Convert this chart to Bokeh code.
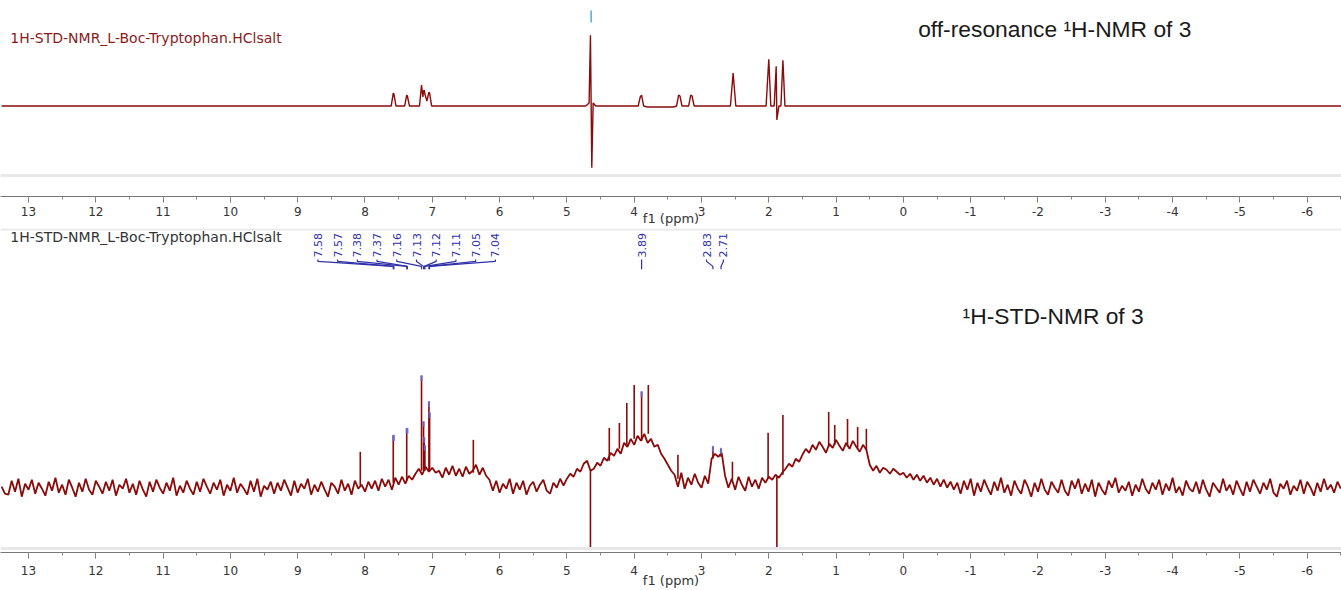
import math
import numpy as np
from bokeh.plotting import figure
from bokeh.layouts import column
from bokeh.models import Range1d, SingleIntervalTicker, Label, Span, ColumnDataSource, PrintfTickFormatter
from bokeh.core.properties import value
from bokeh.embed import file_html
from bokeh.resources import INLINE

# ---------------- data ----------------
sample_name = "1H-STD-NMR_L-Boc-Tryptophan.HClsalt"
title_off = "off-resonance \u00b9H-NMR of 3"
title_std = "\u00b9H-STD-NMR of 3"
axis_title = "f1 (ppm)"

# off-resonance 1H spectrum: (ppm, intensity) vertices
off_ppm = [13.40, 7.61, 7.58, 7.57, 7.54, 7.41, 7.38, 7.37, 7.34, 7.19, 7.16, 7.14, 7.13, 7.12, 7.11, 7.08, 7.05, 7.04, 7.01,
           4.72, 4.67, 4.65, 4.63, 4.61, 4.57,
           3.94, 3.91, 3.89, 3.86, 3.80, 3.42, 3.37, 3.34, 3.32, 3.29, 3.19, 3.16, 3.14, 3.11,
           2.57, 2.53, 2.49, 2.04, 2.00, 1.97, 1.92, 1.89, 1.88, 1.85, 1.82, 1.79, 1.76, -6.51]
off_int = [0, 0, 13, 12, 0, 0, 11, 10, 0, 0, 21, 9, 15, 16, 12, 5, 14, 13, 0,
           0, 3, 71, -62, 3, 0,
           0, 9, 11, 0, -1, -1, 0, 11, 10, 0, 0, 11, 10, 0,
           0, 33, 0, 0, 47, 0, 0, 40, -14, 0, 0, 46, 0, 0]
off_marker_ppm = [4.64]
off_marker_lo = [84]
off_marker_hi = [96]

std_start = 13.40
std_step = 0.05
std_a = [-4, -11,
         -12, 2, -9, 4, -14, -1, -7, 3, -11, 0,
         -6, -13, 1, -8, 5, -10, -2, -12, 3, -5,
         -14, 0, -9, 4, -7, -12, 2, -4, -11, 1,
         -8, 3, -13, -2, -6, 4, -10, -1, -12, 2,
         -7, -14, 1, -9, 3, -5, -11, 0, -8, 5,
         -13, -3, -10, 2, -6, -12, 1, -9, 4, -4,
         -11, 0, -7, 3, -13, -2, -8, 5, -10, -1,
         -6, -12, 2, -9, 4, -14, -3, -7, 1, -11,
         0, -8, 3, -5, -13, 2, -10, -1, -6, 4,
         -12, -2, -9, 1, -7, -14, 0, -4, -11, 3,
         -8, -1, -12, 2, -6]
std_b = [-2, -9, 1, -6, 2, -8, 4, -4, 3, -7, 5, -2, 6, -1, 7, 3]
std_c = [9, 14, 8, 16, 11, 15, 10]
std_d = [12, 5, 15, 8, 17, 7, 14, 6, 16, 9, 12, 18, 8, 15, 7]
std_e = [3, -8, 2, -10, -1, -6, 4, -11, 0, -7, 2, -12, -3, 1, -9, -2, 3, -8, -11, 0, -5, 4, -3]
std_f = [4, 9, 6, 14, 11, 19, 22, 12]
std_g = [14, 20, 17, 25, 22, 30, 27]
std_h = [34, 29, 40, 36, 44, 38, 47, 42, 49, 40]
std_i = [44, 36, 38, 29, 24, 18, 12]
std_j = [8, -4, 10, -6, 5, -2, 9, 0, -5, 7, -1]
std_k = [24, 29, 26, 30]
std_l = [7, -5, 4, -7, 6, -2, -8, 6, -4, 3, -6, 5, 0]
std_m = [6, 3, 8, 5, 10]
std_n = [14, 19, 16, 24, 21]
std_o = [28, 34, 30, 38, 33, 41, 36, 30, 39, 35, 43, 37, 32, 40, 34, 42, 36, 31, 38, 33]
std_p = [18, 12, 17, 10, 15, 13, 9, 14, 11, 8]
std_q = [10, 5, 9, 3, 8, 2, 7, 0, 5, -2, 4, -4, 3, -5, 1, -7, 0]
std_r = [-11, 2, -7, 4, -13, 0, -9, 3, -5, -12,
         1, -8, 5, -10, -2, -13, 2, -6, -11, 3,
         -4, -14, 0, -9, 4, -7, -12, 1, -5, -10,
         3, -8, -13, 2, -6, 4, -11, -1, -9, 3,
         -14, 0, -7, -12, 2, -5, 5, -10, -3, -8,
         1, -13, -2, -9, 4, -6, -11, 0, -7, 3,
         -12, -1, -8, 5, -10, -4, -13, 2, -6, -9,
         1, -11, 3, -7, -14, 0, -5, -10, 4, -8,
         -2, -12, 2, -6, -13, 1, -9, 3, -4, -11,
         0, -7, 4, -10, -14, -1, -6, 2, -12, -3,
         -8, 3, -11, 1, -5, -13, 0, -9, 4, -7,
         -2, -10, 1, -6]

# sharp lines of the STD spectrum
std_spike_ppm = [8.07, 7.58, 7.38, 7.16, 7.13, 7.12, 7.11, 7.05, 7.04, 6.39, 4.65, 4.37, 4.22, 4.11,
                 4.00, 3.89, 3.79, 3.35, 2.83, 2.71, 2.54, 2.01, 1.88, 1.79, 1.11, 1.02, 0.83, 0.68, 0.55]
std_spike_top = [31, 47, 54, 107, 61, 45, 37, 81, 70, 43, -67, 55, 60, 80,
                 98, 91, 98, 28, 36, 34, 21, 50, -67, 68, 71, 58, 64, 56, 54]
std_spike_base = [-3, 0, 2, 12, 12, 12, 12, 12, 12, 10, 12, 22, 34, 36,
                  44, 42, 49, 4, 24, 26, 3, 4, 6, 8, 36, 38, 36, 34, 33]

# peak picking labels
pk_ppm = [7.58, 7.57, 7.38, 7.37, 7.16, 7.13, 7.12, 7.11, 7.05, 7.04, 3.89, 2.83, 2.71]
pk_top = [47, 47, 54, 54, 107, 61, 45, 37, 81, 70, 91, 36, 34]
pk_group = [0, 0, 0, 0, 0, 0, 0, 0, 0, 0, 1, 2, 2]
pk_text = ["7.58", "7.57", "7.38", "7.37", "7.16", "7.13", "7.12", "7.11", "7.05", "7.04", "3.89", "2.83", "2.71"]

# ---------------- styling ----------------
W = 1341
RED = "#8b0a0a"
BLUE = "#3030a8"
X_LEFT, X_RIGHT = 13.416, -6.51


def style_axis(p, major_standoff, label_standoff):
    ax = p.xaxis[0]
    ax.ticker = SingleIntervalTicker(interval=1, num_minor_ticks=2)
    ax.formatter = PrintfTickFormatter(format="%d")
    ax.axis_label = axis_title
    ax.axis_label_text_font = "DejaVu Sans"
    ax.axis_label_text_font_size = "13px"
    ax.axis_label_text_font_style = "normal"
    ax.axis_label_text_color = "#333333"
    ax.axis_label_standoff = label_standoff
    ax.major_label_standoff = major_standoff
    ax.major_label_text_font = "DejaVu Sans"
    ax.major_label_text_font_size = "12px"
    ax.major_label_text_color = "#333333"
    ax.axis_line_color = "#777777"
    ax.major_tick_line_color = "#777777"
    ax.minor_tick_line_color = "#888888"
    ax.major_tick_in = 0
    ax.major_tick_out = 6
    ax.minor_tick_in = 0
    ax.minor_tick_out = 3


def make_fig(height, y0, y1, border_bottom):
    p = figure(width=W, height=height,
               x_range=Range1d(X_LEFT, X_RIGHT), y_range=Range1d(y0, y1),
               output_backend="svg", toolbar_location=None, y_axis_location=None,
               min_border_left=0, min_border_right=0, min_border_top=0,
               min_border_bottom=border_bottom)
    p.grid.visible = False
    p.outline_line_color = None
    p.background_fill_color = "white"
    p.border_fill_color = "white"
    return p


# ---- top: off-resonance ----
p1 = make_fig(228, -91, 106, 31)
style_axis(p1, 4, -8)
p1.add_layout(Span(location=-70, dimension="width", line_color="#e8e8e8", line_width=3))
p1.line(off_ppm, off_int, line_color=RED, line_width=1.4)
p1.segment(x0=off_marker_ppm, y0=off_marker_lo, x1=off_marker_ppm, y1=off_marker_hi,
           line_color="#4fb0c4", line_width=1.5)
p1.add_layout(Label(x=13.27, y=68, text=sample_name, text_font="DejaVu Sans",
                    text_font_size="14px", text_color="#8b1a1a", text_baseline="middle"))
p1.add_layout(Label(x=-0.22, y=77, text=title_off, text_font="Liberation Sans",
                    text_font_size="22.8px", text_color="#1a1a1a", text_baseline="middle"))

# ---- bottom: STD ----
p2 = make_fig(362, -70, 255, 37)
style_axis(p2, 7, -5)
p2.add_layout(Span(location=254, dimension="width", line_color="#e8e8e8", line_width=2))
p2.add_layout(Span(location=-66, dimension="width", line_color="#e8e8e8", line_width=3))

std_int = (std_a + std_b + std_c + std_d + std_e + std_f + std_g + std_h + std_i + std_j +
           std_k + std_l + std_m + std_n + std_o + std_p + std_q + std_r)
std_ppm = std_start - std_step * np.arange(len(std_int))
p2.line(std_ppm, std_int, line_color=RED, line_width=1.8)
p2.segment(x0=std_spike_ppm, y0=std_spike_base, x1=std_spike_ppm, y1=std_spike_top,
           line_color=RED, line_width=1.6)

# peak markers on the spectrum
p2.segment(x0=pk_ppm, y0=[t - 5 for t in pk_top], x1=pk_ppm, y1=[t + 1 for t in pk_top],
           line_color="#6b6bd6", line_width=2.2, line_alpha=0.8)

# peak labels with connectors
spacing = {0: 0.293, 1: 0.0, 2: 0.25}
shift = {0: 0.13, 1: 0.0, 2: 0.03}
label_x = [0.0] * len(pk_ppm)
for g in sorted(set(pk_group)):
    idx = [i for i, gg in enumerate(pk_group) if gg == g]
    n = len(idx)
    center = float(np.mean([pk_ppm[i] for i in idx])) + shift[g]
    for k, i in enumerate(idx):
        label_x[i] = center + ((n - 1) / 2 - k) * spacing[g]

src = ColumnDataSource(dict(x=label_x, y=[226] * len(pk_ppm), t=pk_text))
p2.text(x="x", y="y", text="t", source=src, angle=math.pi / 2,
        text_align="left", text_baseline="middle", text_color=BLUE,
        text_font=value("DejaVu Sans"), text_font_size="11px")
xs = [[lx, lx, px, px] for lx, px in zip(label_x, pk_ppm)]
ys = [[224, 222, 217, 214] for _ in pk_ppm]
p2.multi_line(xs, ys, line_color=BLUE, line_width=1.2)

p2.add_layout(Label(x=13.27, y=246, text=sample_name, text_font="DejaVu Sans",
                    text_font_size="14px", text_color="#333333", text_baseline="middle"))
p2.add_layout(Label(x=-0.88, y=167, text=title_std, text_font="Liberation Sans",
                    text_font_size="22.8px", text_color="#1a1a1a", text_baseline="middle"))

layout = column(p1, p2, spacing=0)
open("out.html", "w").write(file_html(layout, INLINE))
